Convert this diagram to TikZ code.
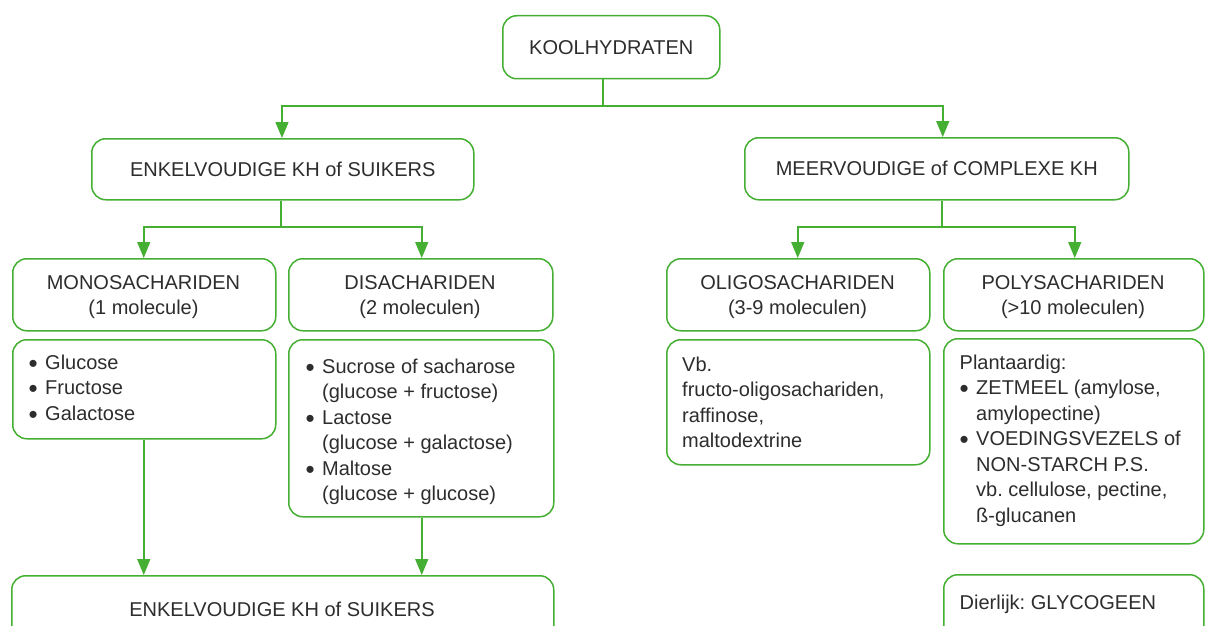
\documentclass[tikz,border=0pt]{standalone}
\usepackage{fontspec}
\setmainfont{Liberation Sans}
\usetikzlibrary{arrows.meta}
\definecolor{kgreen}{RGB}{68,175,50}
\definecolor{ktext}{RGB}{45,45,45}
\frenchspacing
\newcommand{\kbul}{\makebox[16.5pt][l]{\raisebox{-2.8pt}{\scalebox{1.3}{\textbullet}}}}
\newcommand{\kind}{\hspace*{16.5pt}}
\newcommand{\kst}{\rule{0pt}{18pt}}
\tikzset{
  box/.style={draw=kgreen, line width=1.5pt, rounded corners=14pt, inner sep=0pt, anchor=north west},
  txt/.style={inner sep=0pt, text=ktext, font=\fontsize{20}{25.5}\selectfont},
  ln/.style={draw=kgreen, line width=1.5pt},
  arr/.style={draw=kgreen, line width=1.5pt, -{Triangle[length=16pt,width=13pt]}},
}
\begin{document}
\begin{tikzpicture}[x=1pt,y=-1pt]
\useasboundingbox (0,0) rectangle (1205,626);
\clip (0,0) rectangle (1205,626);
\fill[white] (0,0) rectangle (1205,626);
% level 0
\node[box, minimum width=217, minimum height=63] (top) at (502,15) {};
\node[txt] (toptxt) at (top.center) {KOOLHYDRATEN};
% level 1
\node[box, minimum width=382, minimum height=61] (enk) at (91,138) {};
\node[txt] (enktxt) at (enk.center) {ENKELVOUDIGE KH of SUIKERS};
\node[box, minimum width=384, minimum height=62] (meer) at (744,137) {};
\node[txt] (meertxt) at (meer.center) {MEERVOUDIGE of COMPLEXE KH};
% level 2 headers
\node[box, minimum width=263, minimum height=72] (mono) at (12,258) {};
\node[txt, anchor=north, align=center] (monotxt) at (143.5,271) {\kst MONOSACHARIDEN\\(1 molecule)};
\node[box, minimum width=264, minimum height=72] (dis) at (288,258) {};
\node[txt, anchor=north, align=center] (distxt) at (420,271) {\kst DISACHARIDEN\\(2 moleculen)};
\node[box, minimum width=263, minimum height=72] (oligo) at (666,258) {};
\node[txt, anchor=north, align=center] (oligotxt) at (797.5,271) {\kst OLIGOSACHARIDEN\\(3-9 moleculen)};
\node[box, minimum width=260, minimum height=72] (poly) at (943,258) {};
\node[txt, anchor=north, align=center] (polytxt) at (1073,271) {\kst POLYSACHARIDEN\\(>10 moleculen)};
% content boxes
\node[box, minimum width=263, minimum height=99] (monoc) at (12,339) {};
\node[txt, anchor=north west, align=left] (monoctxt) at (28.5,351) {\kst\kbul Glucose\\\kbul Fructose\\\kbul Galactose};
\node[box, minimum width=265, minimum height=177] (disc) at (288,339) {};
\node[txt, anchor=north west, align=left] (disctxt) at (305.5,355) {\kst\kbul Sucrose of sacharose\\\kind(glucose + fructose)\\\kbul Lactose\\\kind(glucose + galactose)\\\kbul Maltose\\\kind(glucose + glucose)};
\node[box, minimum width=263, minimum height=125] (oligoc) at (666,339) {};
\node[txt, anchor=north west, align=left] (oligoctxt) at (682,353) {\kst Vb.\\fructo-oligosachariden,\\raffinose,\\maltodextrine};
\node[box, minimum width=260, minimum height=205] (polyc) at (943,338) {};
\node[txt, anchor=north west, align=left] (polyctxt) at (959.5,351) {\kst Plantaardig:\\\kbul ZETMEEL (amylose,\\\kind amylopectine)\\\kbul VOEDINGSVEZELS of\\\kind NON-STARCH P.S.\\\kind vb. cellulose, pectine,\\\kind ß-glucanen};
% bottom boxes (cut off)
\node[box, minimum width=542, minimum height=90] (bot) at (11,575) {};
\node[txt, anchor=base] (bottxt) at (282,616) {ENKELVOUDIGE KH of SUIKERS};
\node[box, minimum width=260, minimum height=90] (dier) at (943,574) {};
\node[txt, anchor=base west] (diertxt) at (959.5,609) {Dierlijk: GLYCOGEEN};
% connectors
\coordinate (t0) at (603,106);
\draw[ln] (top.south -| t0) -- (t0);
\draw[arr] (t0) -| (enk.north -| 282,0);
\draw[arr] (t0) -| ([xshift=6pt]meer.north);
\coordinate (e0) at (281,227);
\draw[ln] (enk.south -| e0) -- (e0);
\draw[arr] (e0) -| ([xshift=-0.5pt]mono.north);
\draw[arr] (e0) -| ([xshift=1pt]dis.north);
\coordinate (m0) at (942,227);
\draw[ln] (meer.south -| m0) -- (m0);
\draw[arr] (m0) -| ([xshift=-0.5pt]oligo.north);
\draw[arr] (m0) -| ([xshift=1pt]poly.north);
\draw[arr] ([xshift=-0.5pt]monoc.south) -- ([xshift=-0.5pt]monoc.south |- bot.north);
\draw[arr] ([xshift=0.5pt]disc.south) -- ([xshift=0.5pt]disc.south |- bot.north);
\end{tikzpicture}
\end{document}
